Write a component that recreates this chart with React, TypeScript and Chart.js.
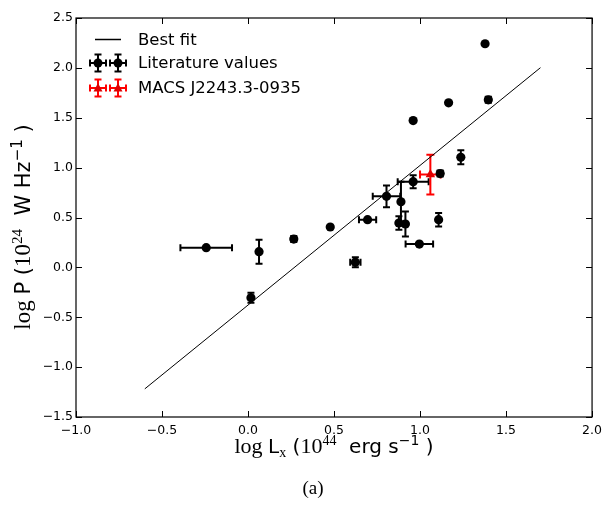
import React, { useEffect, useRef } from "react";
import { Chart, registerables } from "chart.js";

Chart.register(...registerables);

// ---------------- data ----------------
const litX = [-0.243, 0.064, 0.266, 0.017, 0.478, 0.624, 0.695, 0.805, 0.889, 0.877, 0.915, 0.96, 1.108, 0.996, 1.237, 1.117, 0.96, 1.378, 1.166, 1.397];
const litY = [0.197, 0.157, 0.284, -0.305, 0.405, 0.052, 0.478, 0.712, 0.658, 0.445, 0.435, 0.859, 0.478, 0.234, 1.103, 0.94, 1.472, 2.242, 1.65, 1.68];
const litXErr = [0.15, 0, 0.015, 0, 0, 0.03, 0.05, 0.08, 0, 0, 0, 0.09, 0, 0.08, 0, 0.015, 0, 0, 0, 0.015];
const litYErr = [0, 0.12, 0.03, 0.05, 0, 0.05, 0, 0.11, 0.2, 0.067, 0.125, 0.065, 0.067, 0, 0.07, 0.03, 0, 0, 0, 0.03];

const macsX = [1.06];
const macsY = [0.93];
const macsXErr = [0.06];
const macsYErr = [0.2];

const fitX = [-0.6, 1.7];
const fitY = [-1.218, 2.002];

const xTicks = [-1.0, -0.5, 0.0, 0.5, 1.0, 1.5, 2.0];
const yTicks = [-1.5, -1.0, -0.5, 0.0, 0.5, 1.0, 1.5, 2.0, 2.5];

const legendLabels = ["Best fit", "Literature values", "MACS J2243.3-0935"];
const caption = "(a)";

// ---------------- helpers ----------------
const SANS = "'DejaVu Sans', sans-serif";
const SERIF = "'Liberation Serif', 'DejaVu Serif', serif";

type Part = { t: string; font: string; dy?: number };

function drawRich(ctx: CanvasRenderingContext2D, parts: Part[], cx: number, baseline: number) {
  let w = 0;
  for (const p of parts) {
    ctx.font = p.font;
    w += ctx.measureText(p.t).width;
  }
  let x = cx - w / 2;
  ctx.textBaseline = "alphabetic";
  ctx.textAlign = "left";
  for (const p of parts) {
    ctx.font = p.font;
    ctx.fillText(p.t, x, baseline + (p.dy || 0));
    x += ctx.measureText(p.t).width;
  }
}

function fmt(v: number) {
  const s = Math.abs(v).toFixed(1);
  return v < 0 ? "\u2212" + s : s;
}

function errBars(
  ctx: CanvasRenderingContext2D,
  px: number,
  py: number,
  xl: number,
  xr: number,
  yt: number,
  yb: number,
  cap: number
) {
  ctx.beginPath();
  if (xr - xl > 0.5) {
    ctx.moveTo(xl, py);
    ctx.lineTo(xr, py);
    ctx.moveTo(xl, py - cap);
    ctx.lineTo(xl, py + cap);
    ctx.moveTo(xr, py - cap);
    ctx.lineTo(xr, py + cap);
  }
  if (yb - yt > 0.5) {
    ctx.moveTo(px, yt);
    ctx.lineTo(px, yb);
    ctx.moveTo(px - cap, yt);
    ctx.lineTo(px + cap, yt);
    ctx.moveTo(px - cap, yb);
    ctx.lineTo(px + cap, yb);
  }
  ctx.stroke();
}

const errorBarPlugin = {
  id: "errorBars",
  beforeDatasetsDraw(chart: any) {
    const { ctx } = chart;
    const xs = chart.scales.x;
    const ys = chart.scales.y;
    const drawSet = (X: number[], Y: number[], XE: number[], YE: number[], color: string, cap: number) => {
      ctx.save();
      ctx.strokeStyle = color;
      ctx.lineWidth = 2;
      for (let i = 0; i < X.length; i++) {
        const px = xs.getPixelForValue(X[i]);
        const py = ys.getPixelForValue(Y[i]);
        errBars(
          ctx,
          px,
          py,
          xs.getPixelForValue(X[i] - XE[i]),
          xs.getPixelForValue(X[i] + XE[i]),
          ys.getPixelForValue(Y[i] + YE[i]),
          ys.getPixelForValue(Y[i] - YE[i]),
          cap
        );
      }
      ctx.restore();
    };
    drawSet(litX, litY, litXErr, litYErr, "#000000", 3.5);
    drawSet(macsX, macsY, macsXErr, macsYErr, "#ff0000", 4);
  },
};

const decorPlugin = {
  id: "decor",
  afterDraw(chart: any) {
    const { ctx, chartArea } = chart;
    const xs = chart.scales.x;
    const ys = chart.scales.y;
    const { left, right, top, bottom } = chartArea;
    ctx.save();
    // frame
    ctx.strokeStyle = "#000";
    ctx.lineWidth = 1.2;
    ctx.strokeRect(left, top, right - left, bottom - top);
    // inward ticks
    ctx.lineWidth = 1;
    ctx.beginPath();
    const tl = 6;
    for (const v of xTicks) {
      const p = Math.round(xs.getPixelForValue(v)) + 0.5;
      ctx.moveTo(p, bottom);
      ctx.lineTo(p, bottom - tl);
      ctx.moveTo(p, top);
      ctx.lineTo(p, top + tl);
    }
    for (const v of yTicks) {
      const p = Math.round(ys.getPixelForValue(v)) + 0.5;
      ctx.moveTo(left, p);
      ctx.lineTo(left + tl, p);
      ctx.moveTo(right, p);
      ctx.lineTo(right - tl, p);
    }
    ctx.stroke();

    // legend
    ctx.fillStyle = "#000";
    const rows = [39.5, 63, 88];
    ctx.lineWidth = 1.5;
    ctx.beginPath();
    ctx.moveTo(95, rows[0]);
    ctx.lineTo(121, rows[0]);
    ctx.stroke();
    ctx.lineWidth = 2;
    for (const mx of [98, 118]) {
      ctx.strokeStyle = "#000";
      errBars(ctx, mx, rows[1], mx - 8, mx + 8, rows[1] - 8.5, rows[1] + 8.5, 3.5);
      ctx.beginPath();
      ctx.arc(mx, rows[1], 4.5, 0, Math.PI * 2);
      ctx.fillStyle = "#000";
      ctx.fill();
    }
    for (const mx of [98, 118]) {
      ctx.strokeStyle = "#ff0000";
      errBars(ctx, mx, rows[2], mx - 8, mx + 8, rows[2] - 8.5, rows[2] + 8.5, 3.5);
      ctx.beginPath();
      ctx.moveTo(mx, rows[2] - 5);
      ctx.lineTo(mx + 4.5, rows[2] + 3.5);
      ctx.lineTo(mx - 4.5, rows[2] + 3.5);
      ctx.closePath();
      ctx.fillStyle = "#e00000";
      ctx.fill();
    }
    ctx.fillStyle = "#000";
    ctx.font = "16.5px " + SANS;
    ctx.textBaseline = "middle";
    ctx.textAlign = "left";
    legendLabels.forEach((t, i) => ctx.fillText(t, 138, rows[i] + 1));

    // x axis title
    const cx = (left + right) / 2;
    drawRich(
      ctx,
      [
        { t: "log ", font: "22px " + SERIF },
        { t: "L", font: "20px " + SANS },
        { t: "x", font: "14px " + SERIF, dy: 4 },
        { t: " (", font: "20px " + SANS },
        { t: "10", font: "22px " + SERIF },
        { t: "44", font: "14px " + SERIF, dy: -8 },
        { t: "  erg s", font: "20px " + SANS },
        { t: "\u22121", font: "14px " + SANS, dy: -8 },
        { t: " )", font: "20px " + SANS },
      ],
      cx,
      453
    );
    // caption
    ctx.font = "19px " + SERIF;
    ctx.textAlign = "center";
    ctx.textBaseline = "alphabetic";
    ctx.fillText(caption, 313, 494);

    // y axis title
    ctx.save();
    ctx.translate(30, 227);
    ctx.rotate(-Math.PI / 2);
    drawRich(
      ctx,
      [
        { t: "log ", font: "23px " + SERIF },
        { t: "P (", font: "21px " + SANS },
        { t: "10", font: "23px " + SERIF },
        { t: "24", font: "15px " + SERIF, dy: -8 },
        { t: "  W Hz", font: "21px " + SANS },
        { t: "\u22121", font: "15px " + SANS, dy: -8 },
        { t: " )", font: "21px " + SANS },
      ],
      0,
      0
    );
    ctx.restore();
    ctx.restore();
  },
};

export default function App() {
  const ref = useRef<HTMLCanvasElement | null>(null);
  useEffect(() => {
    if (!ref.current) return;
    const chart = new Chart(ref.current, {
      type: "scatter",
      data: {
        datasets: [
          {
            type: "line",
            label: legendLabels[0],
            data: fitX.map((v, i) => ({ x: v, y: fitY[i] })),
            borderColor: "#000",
            borderWidth: 1,
            pointRadius: 0,
            fill: false,
          } as any,
          {
            label: legendLabels[1],
            data: litX.map((v, i) => ({ x: v, y: litY[i] })),
            backgroundColor: "#000",
            borderColor: "#000",
            borderWidth: 0,
            pointRadius: 4.6,
          },
          {
            label: legendLabels[2],
            data: macsX.map((v, i) => ({ x: v, y: macsY[i] })),
            backgroundColor: "#e00000",
            borderColor: "#ff0000",
            borderWidth: 0,
            pointRadius: 5.5,
            pointStyle: "triangle",
          },
        ],
      },
      options: {
        animation: false,
        responsive: true,
        maintainAspectRatio: false,
        events: [],
        layout: { padding: { left: 0, top: 18, right: 13, bottom: 0 }, autoPadding: false },
        plugins: { legend: { display: false }, tooltip: { enabled: false }, title: { display: false } },
        scales: {
          x: {
            type: "linear",
            min: -1,
            max: 2,
            afterFit: (s: any) => {
              s.height = 88;
            },
            afterBuildTicks: (s: any) => {
              s.ticks = xTicks.map((v) => ({ value: v }));
            },
            grid: { display: false, drawTicks: false },
            border: { display: false },
            ticks: {
              padding: 6,
              color: "#000",
              font: { family: "DejaVu Sans", size: 12.5 },
              callback: (v: any) => fmt(Number(v)),
              maxRotation: 0,
            },
          },
          y: {
            type: "linear",
            min: -1.5,
            max: 2.5,
            afterFit: (s: any) => {
              s.width = 76;
            },
            afterBuildTicks: (s: any) => {
              s.ticks = yTicks.map((v) => ({ value: v }));
            },
            grid: { display: false, drawTicks: false },
            border: { display: false },
            ticks: {
              padding: 3,
              color: "#000",
              font: { family: "DejaVu Sans", size: 12.5 },
              callback: (v: any) => fmt(Number(v)),
            },
          },
        },
      },
      plugins: [errorBarPlugin, decorPlugin],
    });
    return () => chart.destroy();
  }, []);
  return (
    <div style={{ position: "fixed", left: 0, top: 0, width: 608, height: 505, background: "#fff" }}>
      <canvas ref={ref} />
    </div>
  );
}
